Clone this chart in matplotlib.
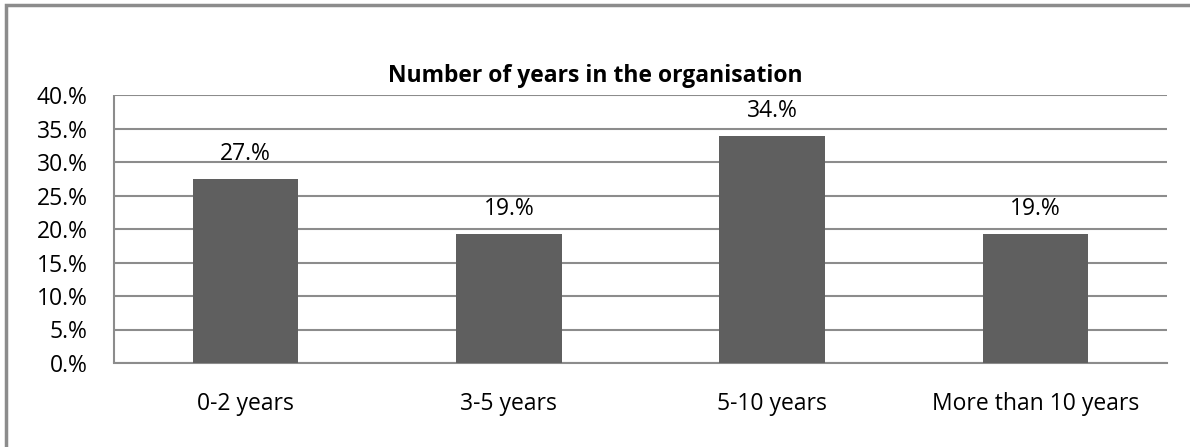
import matplotlib
matplotlib.use('Agg')
import matplotlib.pyplot as plt
from matplotlib.patches import Rectangle

# Data
categories = ['0-2 years', '3-5 years', '5-10 years', 'More than 10 years']
values = [27.4, 19.2, 33.9, 19.2]
value_labels = ['27.%', '19.%', '34.%', '19.%']
yticks = [0, 5, 10, 15, 20, 25, 30, 35, 40]
ytick_labels = [f'{t}.%' for t in yticks]
title = 'Number of years in the organisation'

plt.rcParams['font.family'] = ['Open Sans', 'DejaVu Sans']

W, H = 1190, 447
fig = plt.figure(figsize=(W / 100, H / 100), dpi=100)
ax = fig.add_axes([114 / W, 1 - 363 / H, (1167 - 114) / W, (363 - 95) / H])

grid_c = '#8c8c8c'
fs = 16.5
x = list(range(len(categories)))
ax.bar(x, values, width=0.40, color='#5f5f5f', zorder=3)
for xi, v, lab in zip(x, values, value_labels):
    ax.annotate(lab, (xi, v), textcoords='offset points', xytext=(0, 9.5),
                ha='center', va='bottom', fontsize=fs, color='#000000')

ax.set_xlim(-0.5, len(categories) - 0.5)
ax.set_ylim(0, 40)
ax.set_yticks(yticks)
ax.set_yticklabels(ytick_labels, fontsize=fs)
ax.set_xticks(x)
ax.set_xticklabels(categories, fontsize=fs)
ax.tick_params(axis='y', length=0, pad=19)
ax.tick_params(axis='x', length=0, pad=21)
ax.yaxis.grid(True, color=grid_c, linewidth=1.5, zorder=0)
ax.set_axisbelow(True)
for s in ['top', 'right']:
    ax.spines[s].set_visible(False)
for s in ['left', 'bottom']:
    ax.spines[s].set_color(grid_c)
    ax.spines[s].set_linewidth(1.5)
ax.spines['left'].set_capstyle('butt')

fig.text(0.5, 1 - 76 / H, title, ha='center', va='center',
         fontsize=16.5, fontweight='bold')

# outer chart border (only top and left edges visible in the crop)
fig.patches.append(Rectangle((6 / W, -0.1), 1.2, 1 - 5 / H + 0.1,
                             transform=fig.transFigure, fill=False,
                             edgecolor=grid_c, linewidth=2.5))

fig.savefig('out.png', dpi=100, facecolor='white')
